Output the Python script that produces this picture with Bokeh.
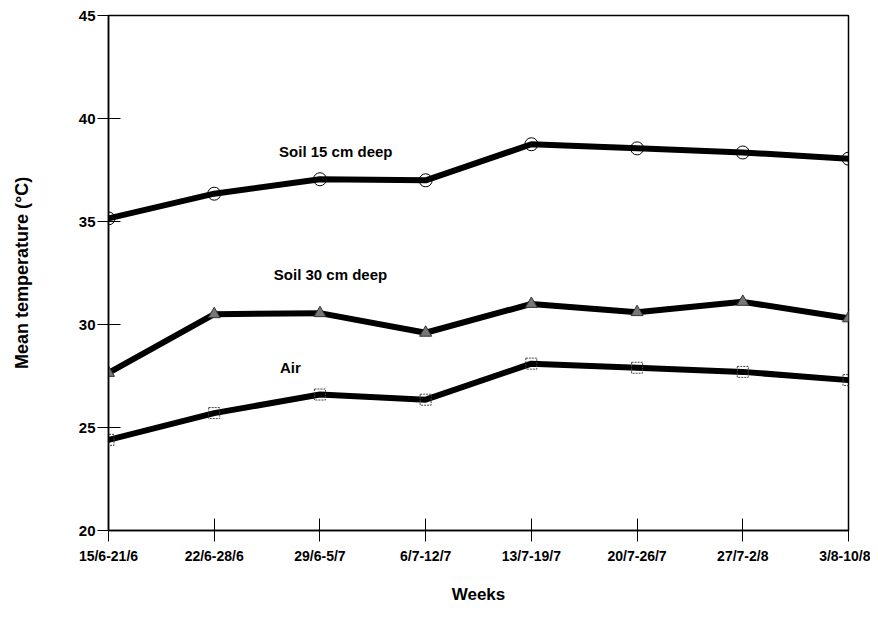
from bokeh.plotting import figure
from bokeh.models import Range1d, FixedTicker, Label
from bokeh.embed import file_html
from bokeh.resources import INLINE

weeks = ["15/6-21/6", "22/6-28/6", "29/6-5/7", "6/7-12/7", "13/7-19/7", "20/7-26/7", "27/7-2/8", "3/8-10/8"]
soil15 = [35.15, 36.35, 37.05, 37.0, 38.75, 38.55, 38.35, 38.05]
soil30 = [27.65, 30.5, 30.55, 29.6, 31.0, 30.6, 31.1, 30.3]
air = [24.4, 25.7, 26.6, 26.35, 28.1, 27.9, 27.7, 27.3]
x = list(range(len(weeks)))

FONT = "Liberation Sans"

p = figure(frame_width=740, frame_height=515, output_backend="svg", toolbar_location=None,
           x_range=Range1d(0, 7), y_range=Range1d(20, 45),
           min_border_left=108, min_border_right=22, min_border_top=15, min_border_bottom=95)
p.background_fill_color = "white"
p.border_fill_color = "white"
p.outline_line_color = "black"
p.outline_line_width = 1.5
p.grid.visible = False

p.xaxis.ticker = FixedTicker(ticks=x)
p.xaxis.major_label_overrides = {i: w for i, w in enumerate(weeks)}
p.yaxis.ticker = FixedTicker(ticks=[20, 25, 30, 35, 40, 45])
for ax in (p.xaxis, p.yaxis):
    ax.axis_line_color = "black"
    ax.axis_line_width = 1.5
    ax.major_tick_in = 12
    ax.major_tick_out = 11
    ax.minor_tick_line_color = None
    ax.major_label_text_font = FONT
    ax.major_label_text_font_style = "bold"
    ax.major_label_text_color = "black"
    ax.axis_label_text_font = FONT
    ax.axis_label_text_font_style = "bold"
    ax.axis_label_text_color = "black"
p.xaxis.major_label_text_font_size = "14px"
p.yaxis.major_label_text_font_size = "15px"
p.xaxis.major_label_standoff = 6
p.yaxis.major_label_standoff = 2
p.xaxis.axis_label = "Weeks"
p.xaxis.axis_label_text_font_size = "17px"
p.xaxis.axis_label_standoff = 18
p.yaxis.axis_label = "Mean temperature (°C)"
p.yaxis.axis_label_text_font_size = "18px"
p.yaxis.axis_label_standoff = 44

p.line(x, soil15, line_width=6, color="black")
p.scatter(x, soil15, marker="circle", size=13, fill_color="white", fill_alpha=0.0, line_color="black", line_width=1)
p.line(x, soil30, line_width=6, color="black")
p.scatter(x, soil30, marker="triangle", size=12, fill_color="#777777", line_color="#333333", line_width=1)
p.line(x, air, line_width=6, color="black")
p.scatter(x, air, marker="square", size=11, fill_alpha=0.0, line_color="#444444", line_width=1, line_dash="2 1")

for txt, xx, yy in [("Soil 15 cm deep", 2.15, 38.0), ("Soil 30 cm deep", 2.1, 32.0), ("Air", 1.72, 27.5)]:
    p.add_layout(Label(x=xx, y=yy, text=txt, text_font=FONT, text_font_style="bold",
                       text_font_size="15px", text_align="center", text_color="black"))

open("out.html", "w").write(file_html(p, INLINE))
